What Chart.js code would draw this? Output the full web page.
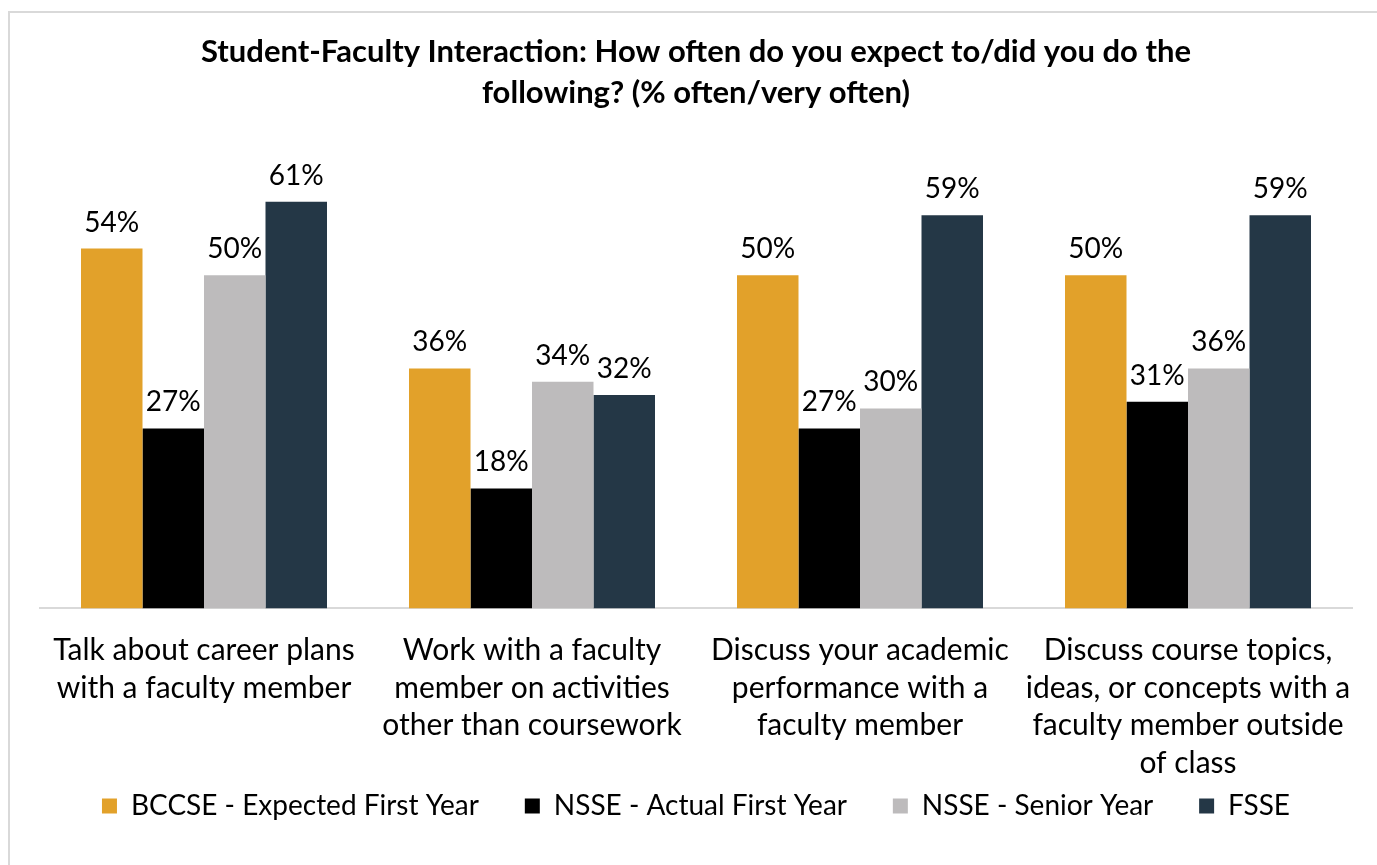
<!DOCTYPE html>
<html>
<head>
<meta charset="utf-8">
<script src="https://cdn.jsdelivr.net/npm/chart.js@4/dist/chart.umd.min.js"></script>
<style>
    html, body { margin: 0; padding: 0; background: #ffffff; overflow: hidden; }
    #frame { position: absolute; left: 8px; top: 11px; width: 2000px; height: 2000px; border: 2px solid #D9D9D9; }
    #chartWrap { position: absolute; left: 0; top: 0; width: 1377px; height: 865px; }
</style>
</head>
<body>
<div id="frame"></div>
<div id="chartWrap"><canvas id="interactionChart" width="1377" height="865"></canvas></div>
<script>
    //Chart data
    const categories = [
        ['Talk about career plans', 'with a faculty member'],
        ['Work with a faculty', 'member on activities', 'other than coursework'],
        ['Discuss your academic', 'performance with a', 'faculty member'],
        ['Discuss course topics,', 'ideas, or concepts with a', 'faculty member outside', 'of class']
    ];
    const seriesNames = ['BCCSE - Expected First Year', 'NSSE - Actual First Year', 'NSSE - Senior Year', 'FSSE'];
    const bccseExpected = [54, 36, 50, 50];
    const nsseFirstYear = [27, 18, 27, 31];
    const nsseSenior = [50, 34, 30, 36];
    const fsse = [61, 32, 59, 59];
    const seriesColors = ['#E2A12A', '#000000', '#BDBBBC', '#243746'];

    const fontFamily = 'Lato, "Open Sans", sans-serif';

    //Draws the percentage above each bar
    const barValueLabels = {
        id: 'barValueLabels',
        afterDatasetsDraw: function (chart) {
            let ctx = chart.ctx;
            ctx.save();
            ctx.font = '28px ' + fontFamily;
            ctx.fillStyle = '#000000';
            ctx.textAlign = 'center';
            ctx.textBaseline = 'middle';
            chart.data.datasets.forEach(function (dataset, i) {
                chart.getDatasetMeta(i).data.forEach(function (bar, j) {
                    ctx.fillText(dataset.data[j] + '%', bar.x, bar.y - 26);
                });
            });
            ctx.restore();
        }
    };

    let seriesData = [bccseExpected, nsseFirstYear, nsseSenior, fsse];
    let datasets = [];
    for (let i = 0; i < seriesNames.length; i++) {
        datasets[i] = {
            label: seriesNames[i],
            data: seriesData[i],
            backgroundColor: seriesColors[i],
            borderWidth: 0,
            categoryPercentage: 0.75,
            barPercentage: 1.0
        };
    }

    new Chart(
        document.getElementById('interactionChart'),
        {
            type: 'bar',
            data: {
                labels: categories,
                datasets: datasets
            },
            plugins: [barValueLabels],
            options: {
                responsive: false,
                animation: false,
                layout: {
                    padding: { left: 40, right: 25, top: 0, bottom: 35 }
                },
                scales: {
                    x: {
                        //tick marks are hidden, tickLength only offsets the labels
                        grid: { display: false, tickLength: 23 },
                        border: { display: true, color: '#D9D9D9', width: 2 },
                        ticks: {
                            color: '#000000',
                            padding: 0,
                            maxRotation: 0,
                            autoSkip: false,
                            font: { family: fontFamily, size: 30, lineHeight: 1.255 }
                        }
                    },
                    y: {
                        display: false,
                        min: 0,
                        max: 70
                    }
                },
                plugins: {
                    title: {
                        display: true,
                        text: ['Student-Faculty Interaction: How often do you expect to/did you do the', 'following? (% often/very often)'],
                        color: '#000000',
                        font: { family: fontFamily, size: 31, weight: 'bold', lineHeight: 1.32 },
                        padding: { top: 32, bottom: 28 }
                    },
                    legend: {
                        position: 'bottom',
                        labels: {
                            color: '#000000',
                            boxWidth: 15,
                            boxHeight: 15,
                            padding: 10,
                            font: { family: fontFamily, size: 28 },
                            //wider gaps between items than the row padding gives
                            generateLabels: function (chart) {
                                let items = Chart.defaults.plugins.legend.labels.generateLabels(chart);
                                for (let i = 0; i < items.length - 1; i++) {
                                    items[i].text = items[i].text + '     ';
                                }
                                return items;
                            }
                        }
                    },
                    tooltip: { enabled: false }
                }
            }
        }
    );
</script>
</body>
</html>
